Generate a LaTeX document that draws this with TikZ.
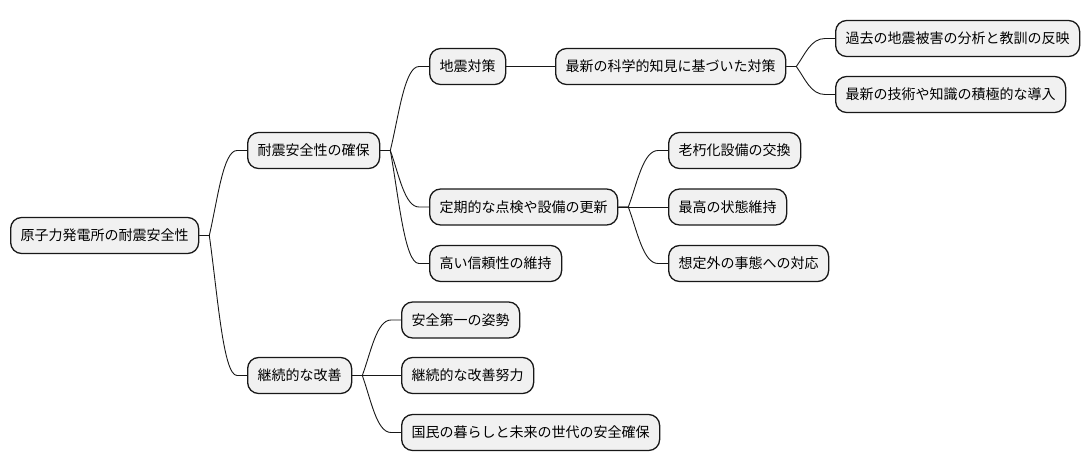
\documentclass[tikz,border=0pt]{standalone}
\usepackage{fontspec}
\newfontfamily\cjk{Noto Sans CJK JP}
\usetikzlibrary{calc}
\definecolor{boxfill}{HTML}{F1F1F1}
\definecolor{ink}{HTML}{181818}
\tikzset{
  mmbox/.style={draw=ink, fill=boxfill, line width=1.3pt, rounded corners=11pt,
    minimum height=36pt, inner xsep=10pt, inner ysep=0pt, anchor=west,
    font=\cjk\fontsize{14}{16}\selectfont, text=black},
  conn/.style={draw=ink, line width=0.9pt}
}
\newcommand\mmlink[2]{%
  \draw[conn] let \p1=(#1.east), \p2=(#2.west), \n1={\x2-\x1-20pt}, \n2={\y2-\y1} in
    (\p1) -- ++(10pt,0)
    .. controls +(0.3*\n1,0.42*\n2) and +(-0.5*\n1,0) .. ($(\p2)+(-10pt,0)$) -- (\p2);}
\begin{document}
\begin{tikzpicture}[x=1pt,y=-1pt]
\useasboundingbox (0,0) rectangle (1090,471);
\node[mmbox] (root) at (10,235.5) {原子力発電所の耐震安全性};
\node[mmbox] (n1) at (247,150.5) {耐震安全性の確保};
\node[mmbox] (n2) at (247,375.5) {継続的な改善};
\node[mmbox] (n11) at (429,66.5) {地震対策};
\node[mmbox] (n12) at (429,207) {定期的な点検や設備の更新};
\node[mmbox] (n13) at (429,263.5) {高い信頼性の維持};
\node[mmbox] (n111) at (555,66.5) {最新の科学的知見に基づいた対策};
\node[mmbox] (n1111) at (835,38.5) {過去の地震被害の分析と教訓の反映};
\node[mmbox] (n1112) at (835,94.5) {最新の技術や知識の積極的な導入};
\node[mmbox] (n121) at (668,150.5) {老朽化設備の交換};
\node[mmbox] (n122) at (668,207) {最高の状態維持};
\node[mmbox] (n123) at (668,263.5) {想定外の事態への対応};
\node[mmbox] (n21) at (401,320) {安全第一の姿勢};
\node[mmbox] (n22) at (401,375.5) {継続的な改善努力};
\node[mmbox] (n23) at (401,432.5) {国民の暮らしと未来の世代の安全確保};
\mmlink{root}{n1}
\mmlink{root}{n2}
\mmlink{n1}{n11}
\mmlink{n1}{n12}
\mmlink{n1}{n13}
\draw[conn] (n11.east) -- (n111.west);
\mmlink{n111}{n1111}
\mmlink{n111}{n1112}
\mmlink{n12}{n121}
\draw[conn] (n12.east) -- (n122.west);
\mmlink{n12}{n123}
\mmlink{n2}{n21}
\draw[conn] (n2.east) -- (n22.west);
\mmlink{n2}{n23}
\end{tikzpicture}
\end{document}
